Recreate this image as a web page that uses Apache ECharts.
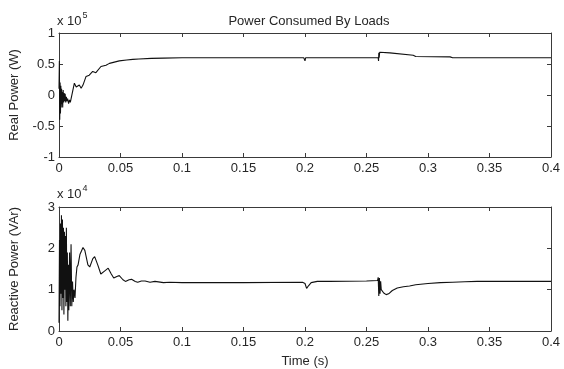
<!DOCTYPE html>
<html>
<head>
<meta charset="utf-8">
<script src="https://cdn.jsdelivr.net/npm/echarts@6/dist/echarts.min.js"></script>
<style>html,body{margin:0;padding:0;background:#fff}#c{width:564px;height:369px}</style>
</head>
<body>
<div id="c"></div>
<script>
// Real power (units of 1e5 W)
var realTime = [0,0.0003,0.0006,0.0009,0.0012,0.0015,0.0018,0.0021,0.0024,0.0027,0.003,0.0034,0.0038,0.0042,0.0046,0.005,0.0055,0.006,0.0065,0.007,0.0078,0.0085,0.0092,0.0097,0.011,0.0125,0.014,0.0165,0.018,0.0195,0.022,0.0246,0.0274,0.030,0.0341,0.0382,0.041,0.045,0.049,0.055,0.06,0.065,0.075,0.085,0.1,0.15,0.199,0.2,0.2005,0.23,0.2595,0.2598,0.26,0.2603,0.2607,0.262,0.269,0.27,0.288,0.29,0.318,0.32,0.36,0.4];
var realValue = [0.1,0.55,-0.4,0.2,-0.3,0.15,-0.2,0.1,-0.15,0.05,-0.2,0.08,-0.12,0.03,-0.1,0.02,-0.12,-0.03,-0.1,-0.06,-0.14,-0.08,-0.12,-0.1,0.05,0.19,0.13,0.16,0.11,0.16,0.3,0.32,0.38,0.36,0.46,0.48,0.51,0.53,0.55,0.565,0.575,0.58,0.59,0.595,0.6,0.6,0.6,0.55,0.6,0.6,0.6,0.55,0.68,0.6,0.69,0.69,0.68,0.65,0.64,0.62,0.615,0.6,0.6,0.6];

// Reactive power (units of 1e4 VAr)
var reacTime = [0,0.0004,0.0008,0.0012,0.0016,0.002,0.0024,0.0028,0.0032,0.0036,0.004,0.0044,0.0048,0.0052,0.0056,0.006,0.0064,0.0068,0.0072,0.0076,0.008,0.0086,0.0092,0.0098,0.0104,0.011,0.0116,0.0122,0.013,0.0138,0.0146,0.0155,0.017,0.0195,0.021,0.0235,0.025,0.0275,0.029,0.0315,0.034,0.037,0.04,0.0425,0.0445,0.047,0.049,0.052,0.054,0.057,0.059,0.062,0.064,0.067,0.07,0.074,0.078,0.085,0.09,0.1,0.15,0.198,0.2,0.2013,0.203,0.205,0.21,0.22,0.25,0.259,0.2595,0.26,0.2605,0.261,0.2615,0.262,0.264,0.266,0.268,0.271,0.275,0.28,0.285,0.29,0.3,0.31,0.32,0.33,0.34,0.4];
var reacValue = [0.2,2.2,0.6,2.6,0.9,2.8,0.5,2.7,0.8,2.5,0.4,2.4,1.0,2.3,0.6,2.5,0.7,1.9,0.25,1.6,0.5,1.9,0.6,2.1,0.6,1.2,0.7,1.0,0.8,1.3,1.55,1.6,1.85,2.02,1.95,1.6,1.55,1.75,1.8,1.6,1.38,1.45,1.52,1.38,1.28,1.32,1.34,1.24,1.2,1.24,1.25,1.2,1.18,1.21,1.21,1.18,1.2,1.17,1.18,1.17,1.17,1.18,1.15,1.03,1.1,1.17,1.2,1.2,1.21,1.22,1.3,0.85,1.28,0.9,1.2,1.0,0.92,0.88,0.9,0.98,1.04,1.07,1.09,1.12,1.15,1.17,1.18,1.19,1.2,1.2];

var xTicks = {min: 0, max: 0.4, interval: 0.05};
var realTicks = {min: -1, max: 1, interval: 0.5};
var reacTicks = {min: 0, max: 3, interval: 1};

function pairs(t, v) { return t.map(function (x, i) { return [x, v[i]]; }); }

var FONT = 'Liberation Sans';
var TXT = '#262626';
var AX = '#3a3a3a';

function xAx(grid, pos, labels, name) {
  return {
    type: 'value', gridIndex: grid, position: pos,
    min: xTicks.min, max: xTicks.max, interval: xTicks.interval,
    axisLine: {show: true, onZero: false, lineStyle: {color: AX, width: 1}},
    axisTick: {show: true, inside: true, length: 4, lineStyle: {color: AX}},
    axisLabel: {show: labels, color: TXT, fontFamily: FONT, fontSize: 13, margin: 5},
    splitLine: {show: false},
    name: name || '', nameLocation: 'middle', nameGap: 24,
    nameTextStyle: {color: TXT, fontFamily: FONT, fontSize: 13}
  };
}
function yAx(grid, pos, labels, tk, name) {
  return {
    type: 'value', gridIndex: grid, position: pos,
    min: tk.min, max: tk.max, interval: tk.interval,
    axisLine: {show: true, onZero: false, lineStyle: {color: AX, width: 1}},
    axisTick: {show: true, inside: true, length: 4, lineStyle: {color: AX}},
    axisLabel: {show: labels, color: TXT, fontFamily: FONT, fontSize: 13, margin: 4},
    splitLine: {show: false},
    name: name || '', nameLocation: 'middle', nameGap: 38,
    nameTextStyle: {color: TXT, fontFamily: FONT, fontSize: 13}
  };
}

var chart = echarts.init(document.getElementById('c'), null, {renderer: 'canvas'});
chart.setOption({
  backgroundColor: '#ffffff',
  animation: false,
  title: {
    text: 'Power Consumed By Loads', left: 304, top: 10, textAlign: 'center',
    textStyle: {color: TXT, fontFamily: FONT, fontSize: 13, fontWeight: 'normal'}
  },
  grid: [
    {left: 58, right: 13, top: 33, height: 124},
    {left: 58, right: 13, top: 207, height: 126}
  ],
  xAxis: [
    xAx(0, 'bottom', true),
    xAx(0, 'top', false),
    xAx(1, 'bottom', true, 'Time (s)'),
    xAx(1, 'top', false)
  ],
  yAxis: [
    yAx(0, 'left', true, realTicks, 'Real Power (W)'),
    yAx(0, 'right', false, realTicks),
    yAx(1, 'left', true, reacTicks, 'Reactive Power (VAr)'),
    yAx(1, 'right', false, reacTicks)
  ],
  graphic: [
    {type: 'text', left: 57, top: 11, style: {
      text: '{a|x 10}{b|5}', fill: TXT,
      rich: {a: {fontFamily: FONT, fontSize: 13, fill: TXT, verticalAlign: 'bottom'},
             b: {fontFamily: FONT, fontSize: 9, fill: TXT, verticalAlign: 'top', padding: [0, 0, 8, 1]}}
    }},
    {type: 'text', left: 57, top: 184, style: {
      text: '{a|x 10}{b|4}', fill: TXT,
      rich: {a: {fontFamily: FONT, fontSize: 13, fill: TXT, verticalAlign: 'bottom'},
             b: {fontFamily: FONT, fontSize: 9, fill: TXT, verticalAlign: 'top', padding: [0, 0, 8, 1]}}
    }}
  ],
  series: [
    {type: 'line', xAxisIndex: 0, yAxisIndex: 0, data: pairs(realTime, realValue),
     showSymbol: false, lineStyle: {color: '#111', width: 1.1}},
    {type: 'line', xAxisIndex: 2, yAxisIndex: 2, data: pairs(reacTime, reacValue),
     showSymbol: false, lineStyle: {color: '#111', width: 1.1}}
  ]
});
</script>
</body>
</html>
